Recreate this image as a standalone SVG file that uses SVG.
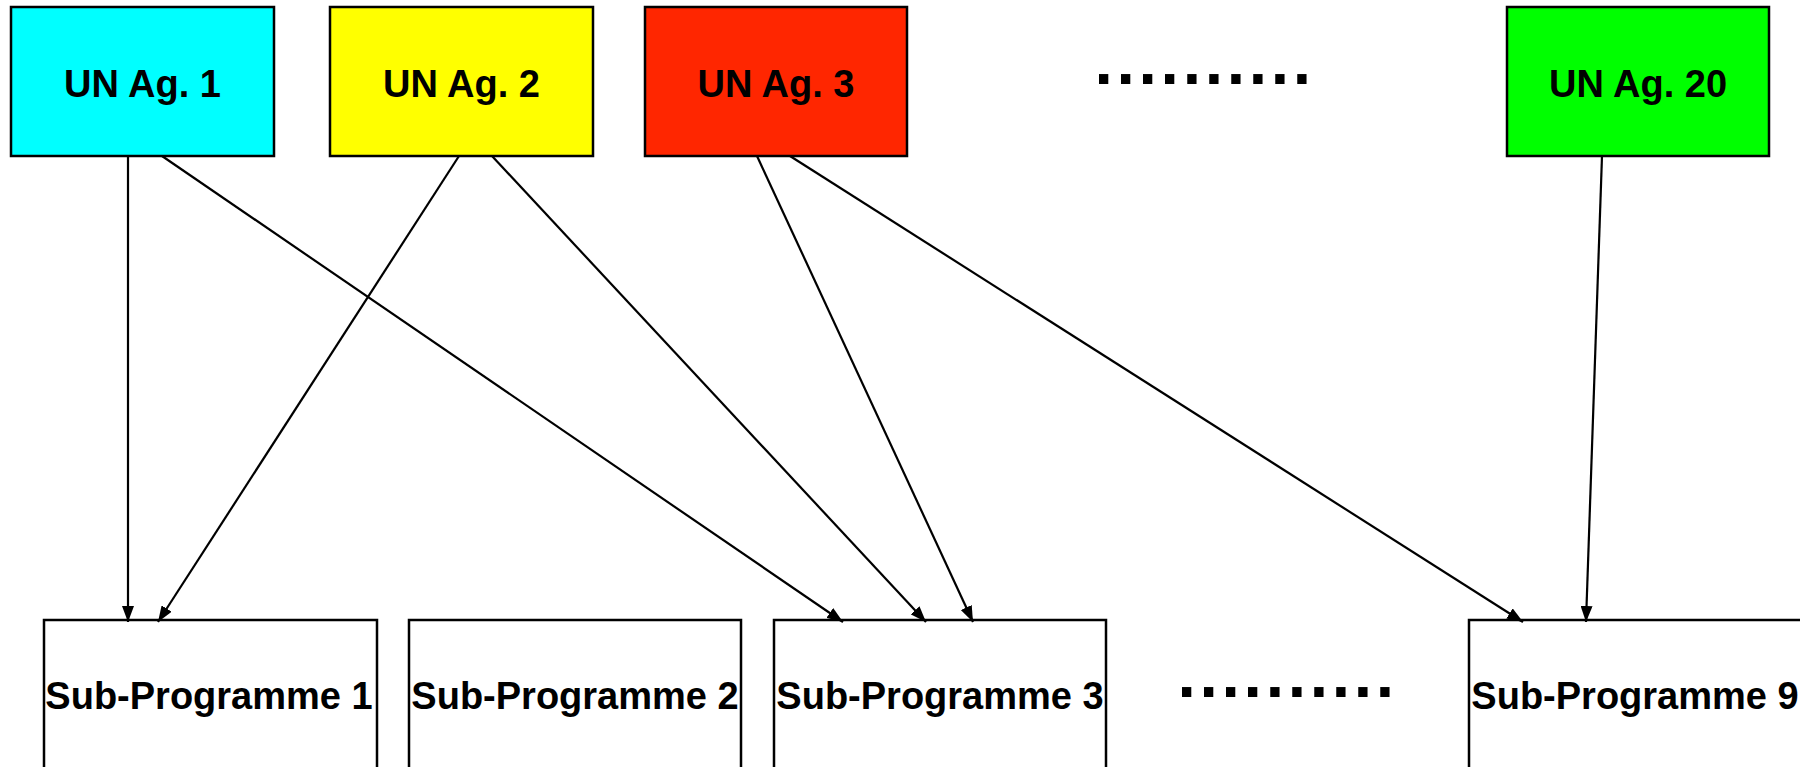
<svg xmlns="http://www.w3.org/2000/svg" width="1800" height="767" viewBox="0 0 1800 767">
<style>
.box{stroke:#000;stroke-width:2.5}
.lbl{font-family:"Liberation Sans",Arial,sans-serif;font-weight:bold;font-size:38px;fill:#000;text-anchor:middle}
.dots{font-family:"Liberation Sans",Arial,sans-serif;font-weight:bold;font-size:66px;fill:#000;letter-spacing:3.7px}
.conn line{stroke:#000;stroke-width:2.2;marker-end:url(#arr)}
</style>
<defs>
<marker id="arr" viewBox="0 0 16 12" refX="16" refY="6" markerWidth="16" markerHeight="12" markerUnits="userSpaceOnUse" orient="auto">
<path d="M0,0 L16,6 L0,12 z" fill="#000"/>
</marker>
</defs>
<rect width="1800" height="767" fill="#fff"/>
<g id="ag1"><rect class="box" x="11" y="7" width="263" height="149" fill="#00FFFF"/><text class="lbl" x="142.5" y="97">UN Ag. 1</text></g>
<g id="ag2"><rect class="box" x="330" y="7" width="263" height="149" fill="#FFFF00"/><text class="lbl" x="461.5" y="97">UN Ag. 2</text></g>
<g id="ag3"><rect class="box" x="645" y="7" width="262" height="149" fill="#FF2600"/><text class="lbl" x="776" y="97">UN Ag. 3</text></g>
<g id="dots-top"><text class="dots" x="1094.5" y="84">..........</text></g>
<g id="ag20"><rect class="box" x="1507" y="7" width="262" height="149" fill="#00FF00"/><text class="lbl" x="1638" y="97">UN Ag. 20</text></g>
<g id="sp1"><rect class="box" x="44" y="620" width="333" height="200" fill="#fff"/><text class="lbl" x="209" y="709">Sub-Programme 1</text></g>
<g id="sp2"><rect class="box" x="409" y="620" width="332" height="200" fill="#fff"/><text class="lbl" x="575" y="709">Sub-Programme 2</text></g>
<g id="sp3"><rect class="box" x="774" y="620" width="332" height="200" fill="#fff"/><text class="lbl" x="940" y="709">Sub-Programme 3</text></g>
<g id="dots-bottom"><text class="dots" x="1177.5" y="697">..........</text></g>
<g id="sp9"><rect class="box" x="1469" y="620" width="345" height="200" fill="#fff"/><text class="lbl" x="1635" y="709">Sub-Programme 9</text></g>
<g class="conn" id="connectors">
<line x1="128" y1="156" x2="128" y2="622"/>
<line x1="162" y1="156" x2="843" y2="622"/>
<line x1="459" y1="156" x2="158" y2="622"/>
<line x1="492" y1="156" x2="926" y2="622"/>
<line x1="757" y1="156" x2="973" y2="622"/>
<line x1="790" y1="156" x2="1523" y2="622"/>
<line x1="1602" y1="156" x2="1586" y2="622"/>
</g>
</svg>
